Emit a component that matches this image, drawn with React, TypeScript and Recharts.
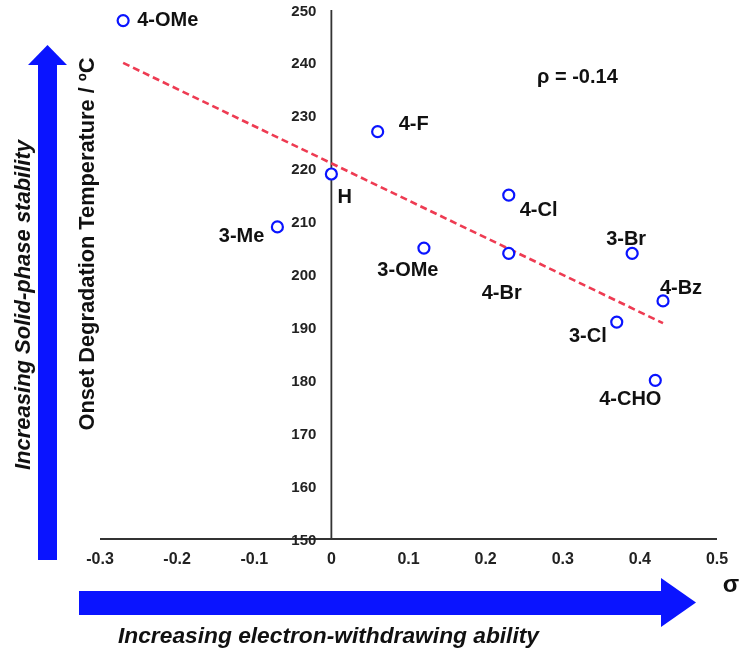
import React from 'react';
import { ScatterChart, Scatter, XAxis, YAxis, ReferenceLine } from 'recharts';

// ---- data ----
const substituents = ['4-OMe', 'H', '4-F', '3-Me', '3-OMe', '4-Cl', '4-Br', '3-Br', '4-Bz', '3-Cl', '4-CHO'];
const sigmaValues = [-0.27, 0, 0.06, -0.07, 0.12, 0.23, 0.23, 0.39, 0.43, 0.37, 0.42];
const onsetTemps = [248, 219, 227, 209, 205, 215, 204, 204, 195, 191, 180];
const xTicks = [-0.3, -0.2, -0.1, 0, 0.1, 0.2, 0.3, 0.4, 0.5];
const yTicks = [150, 160, 170, 180, 190, 200, 210, 220, 230, 240, 250];
const trendStart = { x: -0.27, y: 240 };
const trendEnd = { x: 0.43, y: 190.8 };
const rhoText = 'ρ = -0.14';
const yTitle = 'Onset Degradation Temperature / ºC';
const xTitle = 'σ';
const leftArrowText = 'Increasing Solid-phase stability';
const bottomArrowText = 'Increasing electron-withdrawing ability';

// ---- styles / layout ----
const FONT = '"Liberation Sans", Arial, Helvetica, sans-serif';
const W = 744;
const H = 649;
const Y_AXIS_W = 1;
const MARGIN = { top: 10, right: 27, bottom: 80, left: 100 - Y_AXIS_W };
const X_DOMAIN: [number, number] = [-0.3, 0.5];
const Y_DOMAIN: [number, number] = [150, 250];
const PLOT_LEFT = MARGIN.left + Y_AXIS_W;
const PLOT_W = W - PLOT_LEFT - MARGIN.right;
const ZERO_X = PLOT_LEFT + ((0 - X_DOMAIN[0]) / (X_DOMAIN[1] - X_DOMAIN[0])) * PLOT_W;
const BLUE = '#0a14ff';
const RED = '#ee3b52';
const AXIS = '#333333';

// label offsets relative to each point: [dx, dy, anchor]
const labelStyle: Record<string, [number, number, 'start' | 'middle' | 'end']> = {
  '4-OMe': [14, -2, 'start'],
  H: [6, 22, 'start'],
  '4-F': [21, -9, 'start'],
  '3-Me': [-13, 8, 'end'],
  '3-OMe': [-16, 21, 'middle'],
  '4-Cl': [11, 14, 'start'],
  '4-Br': [-7, 39, 'middle'],
  '3-Br': [-6, -15, 'middle'],
  '4-Bz': [18, -14, 'middle'],
  '3-Cl': [-10, 13, 'end'],
  '4-CHO': [-25, 18, 'middle'],
};

const data = substituents.map((name, i) => ({ name, sigma: sigmaValues[i], temp: onsetTemps[i] }));

const PointShape = (props: any) => {
  const { cx, cy, payload } = props;
  const st = labelStyle[payload.name] || [10, 0, 'start'];
  return (
    <g>
      <circle cx={cx} cy={cy} r={5.5} fill="#ffffff" stroke={BLUE} strokeWidth={2.2} />
      <text
        x={cx + st[0]}
        y={cy + st[1]}
        textAnchor={st[2]}
        dominantBaseline="central"
        fontFamily={FONT}
        fontWeight="bold"
        fontSize={20}
        fill="#111"
      >
        {payload.name}
      </text>
    </g>
  );
};

const renderYTick = (props: any) => {
  const { y, payload } = props;
  return (
    <text
      x={ZERO_X - 15}
      y={y}
      textAnchor="end"
      dominantBaseline="central"
      fontFamily={FONT}
      fontWeight="bold"
      fontSize={15}
      fill="#222"
    >
      {payload.value}
    </text>
  );
};

export default function App() {
  return (
    <div style={{ position: 'fixed', left: 0, top: 0, width: W, height: H }}>
      <ScatterChart width={W} height={H} margin={MARGIN}>
        <XAxis
          type="number"
          dataKey="sigma"
          domain={X_DOMAIN}
          ticks={xTicks}
          allowDataOverflow
          tickLine={false}
          axisLine={{ stroke: AXIS, strokeWidth: 1.8 }}
          tickMargin={8}
          height={30}
          tick={{ fontFamily: FONT, fontWeight: 'bold', fontSize: 16, fill: '#222' }}
          interval={0}
        />
        <YAxis
          type="number"
          dataKey="temp"
          domain={Y_DOMAIN}
          ticks={yTicks}
          allowDataOverflow
          width={Y_AXIS_W}
          tickLine={false}
          axisLine={false}
          tick={renderYTick}
          interval={0}
        />
        <ReferenceLine x={0} stroke={AXIS} strokeWidth={1.8} />
        <ReferenceLine
          segment={[trendStart, trendEnd]}
          stroke={RED}
          strokeWidth={2.6}
          strokeDasharray="7 4"
          ifOverflow="visible"
        />
        <Scatter data={data} isAnimationActive={false} shape={<PointShape />} />
      </ScatterChart>
      <svg
        width={W}
        height={H}
        style={{ position: 'absolute', left: 0, top: 0, pointerEvents: 'none' }}
      >
        {/* left vertical arrow */}
        <rect x={38} y={64} width={19} height={496} fill={BLUE} />
        <polygon points="28,65 67,65 47.5,45" fill={BLUE} />
        {/* bottom horizontal arrow */}
        <rect x={79} y={591} width={583} height={24} fill={BLUE} />
        <polygon points="661,578 661,627 696,602.5" fill={BLUE} />
        <text
          transform="translate(22,305) rotate(-90)"
          textAnchor="middle"
          dominantBaseline="central"
          fontFamily={FONT}
          fontWeight="bold"
          fontStyle="italic"
          fontSize={22}
          textLength={330}
          lengthAdjust="spacingAndGlyphs"
          fill="#111"
        >
          {leftArrowText}
        </text>
        <text
          transform="translate(87,244) rotate(-90)"
          textAnchor="middle"
          dominantBaseline="central"
          fontFamily={FONT}
          fontWeight="bold"
          fontSize={21.5}
          textLength={373}
          lengthAdjust="spacingAndGlyphs"
          fill="#111"
        >
          {yTitle}
        </text>
        <text
          x={118}
          y={635}
          dominantBaseline="central"
          fontFamily={FONT}
          fontWeight="bold"
          fontStyle="italic"
          fontSize={22}
          textLength={421}
          lengthAdjust="spacingAndGlyphs"
          fill="#111"
        >
          {bottomArrowText}
        </text>
        <text
          x={731}
          y={583}
          textAnchor="middle"
          dominantBaseline="central"
          fontFamily={FONT}
          fontWeight="bold"
          fontSize={24}
          fill="#111"
        >
          {xTitle}
        </text>
        <text
          x={537}
          y={76}
          dominantBaseline="central"
          fontFamily={FONT}
          fontWeight="bold"
          fontSize={20}
          fill="#111"
        >
          {rhoText}
        </text>
      </svg>
    </div>
  );
}
